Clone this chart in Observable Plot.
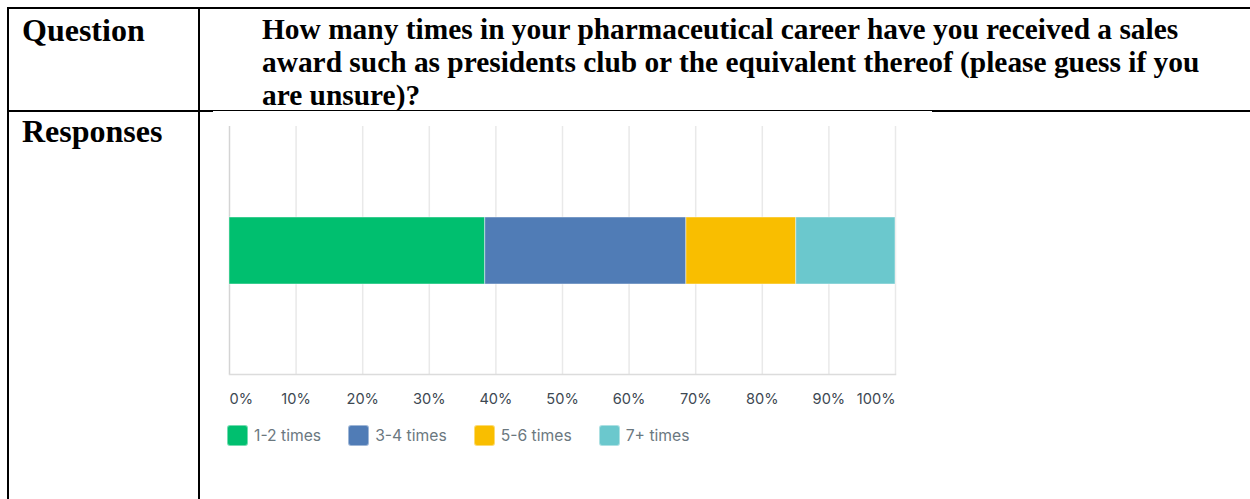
<!DOCTYPE html>
<html>
<head>
<meta charset="utf-8">
<script src="https://cdn.jsdelivr.net/npm/d3@7"></script>
<script src="https://cdn.jsdelivr.net/npm/@observablehq/plot@0.6"></script>
<style>
  html, body { margin: 0; padding: 0; background: #fff; }
  #page { position: relative; width: 1250px; height: 499px; overflow: hidden; background: #fff; }
  .line { position: absolute; background: #000; }
  .cell-text {
    position: absolute;
    font-family: "Liberation Serif", "Times New Roman", serif;
    font-weight: bold;
    font-size: 32px;
    line-height: 33px;
    color: #000;
    white-space: nowrap;
  }
  .cell-text.body { font-size: 29.4px; }
  #chart { position: absolute; left: 200px; top: 112px; }
  #legend {
    position: absolute; left: 227px; top: 425px;
    display: flex; align-items: center; gap: 27px;
    font-family: Inter, "Open Sans", sans-serif; font-size: 15.7px; color: #6b787f;
  }
  .item { display: flex; align-items: center; gap: 6px; }
  .swatch { width: 19px; height: 19px; border-radius: 3px; border: 1px solid rgba(255,255,255,0.45); }
</style>
</head>
<body>
<div id="page">
  <!-- table rules -->
  <div class="line" style="left:7px; top:7px; width:1243px; height:2px"></div>
  <div class="line" style="left:7px; top:7px; width:2px; height:492px"></div>
  <div class="line" style="left:198px; top:7px; width:2px; height:492px"></div>
  <div class="line" style="left:7px; top:110px; width:206px; height:2px"></div>
  <div class="line" style="left:213px; top:110px; width:719px; height:1px"></div>
  <div class="line" style="left:932px; top:110px; width:318px; height:2px"></div>

  <div class="cell-text" style="left:22px; top:14px">Question</div>
  <div class="cell-text body" style="left:262px; top:13px">How many times in your pharmaceutical career have you received a sales<br>award such as presidents club or the equivalent thereof (please guess if you<br>are unsure)?</div>
  <div class="cell-text" style="left:22px; top:115px">Responses</div>

  <div id="chart"></div>
  <div id="legend"></div>
</div>
<script>
// Answer options and their share of responses (%)
const categories = ["1-2 times", "3-4 times", "5-6 times", "7+ times"];
const shares = [38.4, 30.2, 16.5, 14.9];
const colors = ["#00BF6F", "#507CB6", "#F9BE00", "#6BC8CD"];
const tickValues = [0, 10, 20, 30, 40, 50, 60, 70, 80, 90, 100];
const tickLabels = ["0%", "10%", "20%", "30%", "40%", "50%", "60%", "70%", "80%", "90%", "100%"];

const rows = categories.map((answer, i) => ({answer, share: shares[i], row: "all"}));
const ticks = tickValues.map((v, i) => ({v, label: tickLabels[i]}));

const tickText = {x: "v", text: "label", frameAnchor: "bottom", dy: 29, fill: "#3d4852", fontSize: 14.6};

const chart = Plot.plot({
  width: 730,
  height: 302,
  marginLeft: 29,
  marginRight: 35,
  marginTop: 14,
  marginBottom: 40,
  style: {fontFamily: "Inter, 'Open Sans', sans-serif", background: "transparent"},
  x: {domain: [0, 100], axis: null},
  y: {domain: ["all"], axis: null, padding: 0.575},
  color: {domain: categories, range: colors},
  marks: [
    Plot.ruleX(tickValues.slice(1), {stroke: "#e9e9e9", strokeWidth: 1.5}),
    Plot.ruleX([0], {stroke: "#d4d4d4", strokeWidth: 1.5}),
    Plot.frame({anchor: "bottom", stroke: "#dcdcdc", strokeWidth: 1.5}),
    Plot.barX(rows, Plot.stackX({
      x: "share", y: "row", fill: "answer", order: categories,
      stroke: "white", strokeOpacity: 0.45, strokeWidth: 1
    })),
    Plot.text(ticks.slice(0, 1), {...tickText, textAnchor: "start"}),
    Plot.text(ticks.slice(1, -1), {...tickText, textAnchor: "middle"}),
    Plot.text(ticks.slice(-1), {...tickText, textAnchor: "end"})
  ]
});
document.getElementById("chart").append(chart);

// Legend below the chart
const legend = document.getElementById("legend");
categories.forEach((c, i) => {
  const item = document.createElement("div");
  item.className = "item";
  const sw = document.createElement("span");
  sw.className = "swatch";
  sw.style.background = colors[i];
  const label = document.createElement("span");
  label.textContent = c;
  item.append(sw, label);
  legend.append(item);
});
</script>
</body>
</html>
